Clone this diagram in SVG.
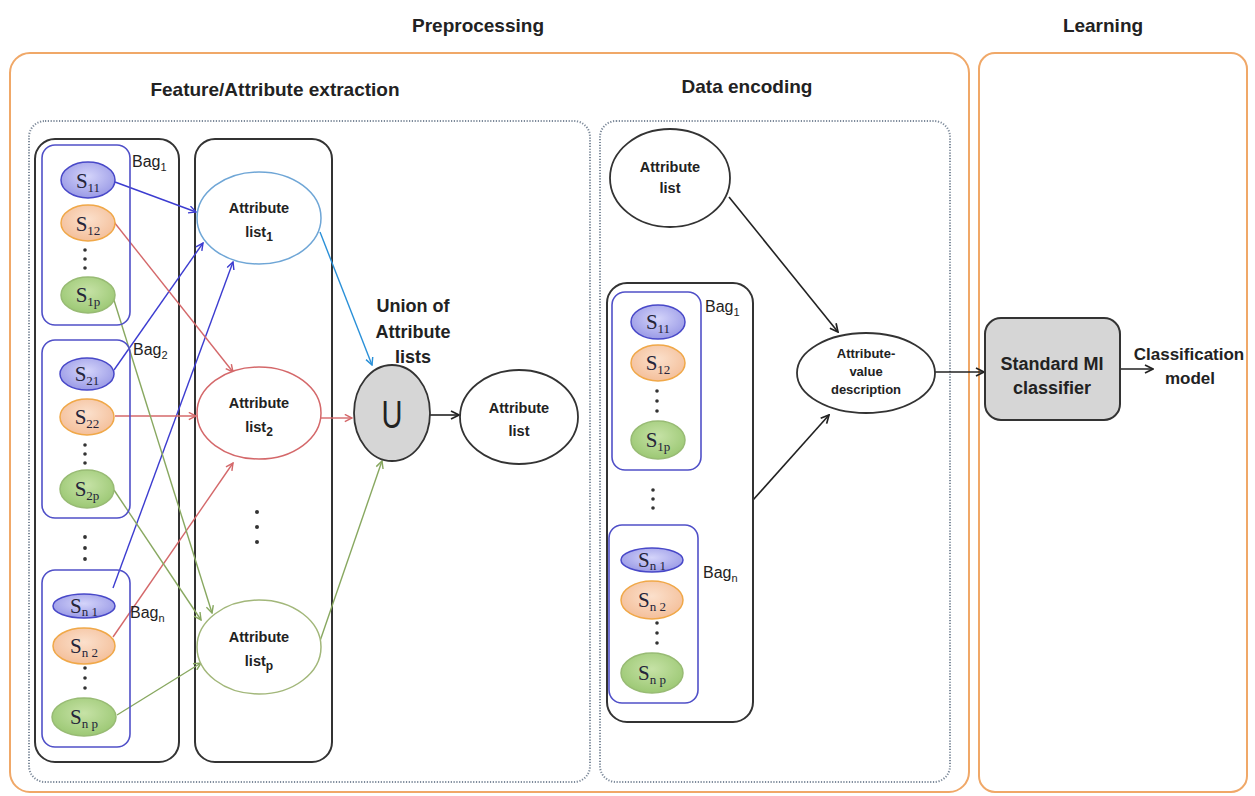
<svg xmlns="http://www.w3.org/2000/svg" width="1255" height="796" viewBox="0 0 1255 796">
<style>
.phase{fill:none;stroke:#f0a868;stroke-width:2}
.dotbox{fill:none;stroke:#7d8a9a;stroke-width:2;stroke-dasharray:1.2 1.6}
.blk{fill:none;stroke:#333;stroke-width:2}
.bag{fill:none;stroke:#5050c8;stroke-width:1.6}
.hd{font-family:"Liberation Sans",Arial,sans-serif;font-weight:bold;font-size:19px;fill:#222;text-anchor:middle}
.lbl{font-family:"Liberation Sans",Arial,sans-serif;font-weight:bold;font-size:14.5px;fill:#222;text-anchor:middle}
.un{font-size:18px}
.av{font-size:13px}
.cl{font-size:18px}
.cm{font-size:17px}
.bl{font-family:"Liberation Sans",Arial,sans-serif;font-size:16px;fill:#222}
.s{font-family:"Liberation Serif","Times New Roman",serif;font-size:21px;fill:#25253a;text-anchor:middle}
.sub{font-size:13px}
.e1{fill:url(#g1);stroke:#4848c8;stroke-width:1.5}
.e2{fill:url(#g2);stroke:#f0a848;stroke-width:1.5}
.e3{fill:url(#g3);stroke:#98bb74;stroke-width:1.5}
.wn{fill:#fff;stroke:#333;stroke-width:1.8}
.dot{fill:#333}
.cb{fill:none;stroke:#3c3cd0;stroke-width:1.4}
.cr{fill:none;stroke:#d4686a;stroke-width:1.4}
.cg{fill:none;stroke:#88a860;stroke-width:1.4}
.ct{fill:none;stroke:#2a90d8;stroke-width:1.4}
.ck{fill:none;stroke:#222;stroke-width:1.6}
</style>
<defs>
<radialGradient id="g1" cx="0.5" cy="0.4" r="0.6"><stop offset="0" stop-color="#d4d4fa"/><stop offset="1" stop-color="#9a9ae6"/></radialGradient>
<radialGradient id="g2" cx="0.5" cy="0.4" r="0.6"><stop offset="0" stop-color="#fbe0cc"/><stop offset="1" stop-color="#f4bf9a"/></radialGradient>
<radialGradient id="g3" cx="0.5" cy="0.4" r="0.6"><stop offset="0" stop-color="#c6e2a6"/><stop offset="1" stop-color="#9cc874"/></radialGradient>
<marker id="mb" viewBox="0 0 10 10" refX="9" refY="5" markerWidth="9" markerHeight="9" orient="auto" markerUnits="userSpaceOnUse"><path d="M1,1 L9,5 L1,9" fill="none" stroke="#3c3cd0" stroke-width="1.6"/></marker>
<marker id="mr" viewBox="0 0 10 10" refX="9" refY="5" markerWidth="9" markerHeight="9" orient="auto" markerUnits="userSpaceOnUse"><path d="M1,1 L9,5 L1,9" fill="none" stroke="#d4686a" stroke-width="1.6"/></marker>
<marker id="mg" viewBox="0 0 10 10" refX="9" refY="5" markerWidth="9" markerHeight="9" orient="auto" markerUnits="userSpaceOnUse"><path d="M1,1 L9,5 L1,9" fill="none" stroke="#88a860" stroke-width="1.6"/></marker>
<marker id="mt" viewBox="0 0 10 10" refX="9" refY="5" markerWidth="9" markerHeight="9" orient="auto" markerUnits="userSpaceOnUse"><path d="M1,1 L9,5 L1,9" fill="none" stroke="#2a90d8" stroke-width="1.6"/></marker>
<marker id="mk" viewBox="0 0 10 10" refX="9" refY="5" markerWidth="10" markerHeight="10" orient="auto" markerUnits="userSpaceOnUse"><path d="M1,1 L9,5 L1,9" fill="none" stroke="#222" stroke-width="1.7"/></marker>
</defs>
<rect width="1255" height="796" fill="#fff"/>

<g id="frames">
<text class="hd" x="478" y="32">Preprocessing</text>
<text class="hd" x="1103" y="32">Learning</text>
<rect class="phase" x="10" y="53" width="959" height="739" rx="20"/>
<rect class="phase" x="979" y="53" width="268" height="739" rx="16"/>
<text class="hd" x="275" y="96">Feature/Attribute extraction</text>
<text class="hd" x="747" y="93">Data encoding</text>
<rect class="dotbox" x="29" y="121" width="561" height="661" rx="16"/>
<rect class="dotbox" x="600" y="121" width="350" height="661" rx="16"/>
<rect class="blk" x="35" y="139" width="144" height="623" rx="20"/>
<rect class="blk" x="195" y="139" width="137" height="623" rx="20"/>
</g>

<g id="connectors">
<line class="cb" x1="115" y1="182" x2="196" y2="212" marker-end="url(#mb)"/>
<line class="cb" x1="114" y1="370" x2="203" y2="243" marker-end="url(#mb)"/>
<line class="cb" x1="113" y1="588" x2="233" y2="262" marker-end="url(#mb)"/>
<line class="cr" x1="114" y1="222" x2="233" y2="372" marker-end="url(#mr)"/>
<line class="cr" x1="115" y1="416" x2="196" y2="416" marker-end="url(#mr)"/>
<line class="cr" x1="113" y1="637" x2="233" y2="463" marker-end="url(#mr)"/>
<line class="cg" x1="113" y1="297" x2="212" y2="613" marker-end="url(#mg)"/>
<line class="cg" x1="114" y1="490" x2="201" y2="620" marker-end="url(#mg)"/>
<line class="cg" x1="117" y1="715" x2="201" y2="663" marker-end="url(#mg)"/>
<line class="ct" x1="320" y1="232" x2="372" y2="365" marker-end="url(#mt)"/>
<line class="cr" x1="321" y1="418" x2="352" y2="418" marker-end="url(#mr)"/>
<line class="cg" x1="320" y1="641" x2="382" y2="461" marker-end="url(#mg)"/>
<line class="ck" x1="430" y1="415" x2="459" y2="415" marker-end="url(#mk)"/>
<line class="ck" x1="729" y1="197" x2="838" y2="332" marker-end="url(#mk)"/>
<line class="ck" x1="753" y1="500" x2="829" y2="415" marker-end="url(#mk)"/>
<line class="ck" x1="935" y1="372" x2="984" y2="372" marker-end="url(#mk)"/>
<line class="ck" x1="1120" y1="369" x2="1153" y2="369" marker-end="url(#mk)"/>
</g>

<g id="bag1">
<rect class="bag" x="42" y="145" width="88" height="180" rx="13"/>
<text class="bl" x="132" y="167">Bag<tspan dy="4" style="font-size:11px">1</tspan></text>
<ellipse class="e1" cx="88" cy="180" rx="27" ry="18"/>
<text class="s" x="88" y="188">S<tspan class="sub" dy="4">11</tspan></text>
<ellipse class="e2" cx="88" cy="223" rx="27" ry="18"/>
<text class="s" x="88" y="231">S<tspan class="sub" dy="4">12</tspan></text>
<circle class="dot" cx="85" cy="250" r="1.8"/><circle class="dot" cx="85" cy="259" r="1.8"/><circle class="dot" cx="85" cy="268" r="1.8"/>
<ellipse class="e3" cx="88" cy="295" rx="27" ry="18"/>
<text class="s" x="88" y="302">S<tspan class="sub" dy="4">1p</tspan></text>
</g>

<g id="bag2">
<rect class="bag" x="42" y="340" width="88" height="178" rx="13"/>
<text class="bl" x="133" y="355">Bag<tspan dy="4" style="font-size:11px">2</tspan></text>
<ellipse class="e1" cx="87" cy="374" rx="27" ry="16"/>
<text class="s" x="87" y="381">S<tspan class="sub" dy="4">21</tspan></text>
<ellipse class="e2" cx="87" cy="417" rx="27" ry="18"/>
<text class="s" x="87" y="424">S<tspan class="sub" dy="4">22</tspan></text>
<circle class="dot" cx="85" cy="445" r="1.8"/><circle class="dot" cx="85" cy="454" r="1.8"/><circle class="dot" cx="85" cy="463" r="1.8"/>
<ellipse class="e3" cx="87" cy="489" rx="27" ry="19"/>
<text class="s" x="87" y="496">S<tspan class="sub" dy="4">2p</tspan></text>
</g>

<g id="bag-dots">
<circle class="dot" cx="85" cy="537" r="1.9"/><circle class="dot" cx="85" cy="548" r="1.9"/><circle class="dot" cx="85" cy="559" r="1.9"/>
</g>

<g id="bagn">
<rect class="bag" x="42" y="570" width="88" height="177" rx="13"/>
<text class="bl" x="130" y="618">Bag<tspan dy="4" style="font-size:11px">n</tspan></text>
<ellipse class="e1" cx="84" cy="606" rx="31" ry="12"/>
<text class="s" x="84" y="613">S<tspan class="sub" dy="3">n 1</tspan></text>
<ellipse class="e2" cx="84" cy="646" rx="31" ry="18"/>
<text class="s" x="84" y="653">S<tspan class="sub" dy="4">n 2</tspan></text>
<circle class="dot" cx="85" cy="668" r="1.8"/><circle class="dot" cx="85" cy="678" r="1.8"/><circle class="dot" cx="85" cy="688" r="1.8"/>
<ellipse class="e3" cx="84" cy="717" rx="32" ry="19"/>
<text class="s" x="84" y="724">S<tspan class="sub" dy="4">n p</tspan></text>
</g>

<g id="attr-list-1">
<ellipse cx="259" cy="218" rx="62" ry="46" fill="#fff" stroke="#6fa6d6" stroke-width="1.5"/>
<text class="lbl" x="259" y="213">Attribute</text>
<text class="lbl" x="259" y="237">list<tspan dy="4" style="font-size:12px">1</tspan></text>
</g>
<g id="attr-list-2">
<ellipse cx="259" cy="413" rx="62" ry="46" fill="#fff" stroke="#d4686a" stroke-width="1.5"/>
<text class="lbl" x="259" y="408">Attribute</text>
<text class="lbl" x="259" y="432">list<tspan dy="4" style="font-size:12px">2</tspan></text>
</g>
<g id="attr-dots">
<circle class="dot" cx="257" cy="512" r="2"/><circle class="dot" cx="257" cy="527" r="2"/><circle class="dot" cx="257" cy="542" r="2"/>
</g>
<g id="attr-list-p">
<ellipse cx="259" cy="647" rx="62" ry="47" fill="#fff" stroke="#a2b77a" stroke-width="1.5"/>
<text class="lbl" x="259" y="642">Attribute</text>
<text class="lbl" x="259" y="666">list<tspan dy="4" style="font-size:12px">p</tspan></text>
</g>

<g id="union">
<text class="lbl un" x="413" y="312">Union of</text>
<text class="lbl un" x="413" y="338">Attribute</text>
<text class="lbl un" x="413" y="363">lists</text>
<ellipse cx="392" cy="413" rx="38" ry="48" fill="#d6d6d6" stroke="#333" stroke-width="1.8"/>
<text x="392" y="428" font-family="Liberation Sans,Arial,sans-serif" font-size="38" fill="#222" text-anchor="middle" textLength="21" lengthAdjust="spacingAndGlyphs">U</text>
</g>

<g id="attr-list-out">
<ellipse class="wn" cx="519" cy="417" rx="59" ry="47"/>
<text class="lbl" x="519" y="413">Attribute</text>
<text class="lbl" x="519" y="436">list</text>
</g>

<g id="enc-attr-list">
<ellipse class="wn" cx="670" cy="178" rx="60" ry="49"/>
<text class="lbl" x="670" y="172">Attribute</text>
<text class="lbl" x="670" y="193">list</text>
</g>

<g id="enc-bags">
<rect class="blk" x="607" y="283" width="146" height="439" rx="20"/>
<rect class="bag" x="612" y="292" width="89" height="178" rx="13"/>
<text class="bl" x="705" y="312">Bag<tspan dy="4" style="font-size:11px">1</tspan></text>
<ellipse class="e1" cx="658" cy="322" rx="27" ry="17"/>
<text class="s" x="658" y="329">S<tspan class="sub" dy="4">11</tspan></text>
<ellipse class="e2" cx="658" cy="363" rx="27" ry="18"/>
<text class="s" x="658" y="370">S<tspan class="sub" dy="4">12</tspan></text>
<circle class="dot" cx="657" cy="391" r="1.8"/><circle class="dot" cx="657" cy="401" r="1.8"/><circle class="dot" cx="657" cy="411" r="1.8"/>
<ellipse class="e3" cx="658" cy="440" rx="27" ry="19"/>
<text class="s" x="658" y="447">S<tspan class="sub" dy="4">1p</tspan></text>
<circle class="dot" cx="653" cy="490" r="1.8"/><circle class="dot" cx="653" cy="499" r="1.8"/><circle class="dot" cx="653" cy="508" r="1.8"/>
<rect class="bag" x="609" y="525" width="89" height="178" rx="13"/>
<text class="bl" x="703" y="578">Bag<tspan dy="4" style="font-size:11px">n</tspan></text>
<ellipse class="e1" cx="652" cy="560" rx="31" ry="12"/>
<text class="s" x="652" y="567">S<tspan class="sub" dy="3">n 1</tspan></text>
<ellipse class="e2" cx="652" cy="600" rx="31" ry="19"/>
<text class="s" x="652" y="607">S<tspan class="sub" dy="4">n 2</tspan></text>
<circle class="dot" cx="657" cy="623" r="1.8"/><circle class="dot" cx="657" cy="633" r="1.8"/><circle class="dot" cx="657" cy="643" r="1.8"/>
<ellipse class="e3" cx="652" cy="673" rx="31" ry="20"/>
<text class="s" x="652" y="680">S<tspan class="sub" dy="4">n p</tspan></text>
</g>

<g id="attr-value-desc">
<ellipse class="wn" cx="866" cy="373" rx="69" ry="40"/>
<text class="lbl av" x="866" y="358">Attribute-</text>
<text class="lbl av" x="866" y="376">value</text>
<text class="lbl av" x="866" y="394">description</text>
</g>

<g id="classifier">
<rect x="985" y="318" width="135" height="102" rx="16" fill="#d6d6d6" stroke="#333" stroke-width="2"/>
<text class="hd cl" x="1052" y="370">Standard MI</text>
<text class="hd cl" x="1052" y="394">classifier</text>
</g>

<g id="classification-model">
<text class="hd cm" x="1189" y="360">Classification</text>
<text class="hd cm" x="1190" y="384">model</text>
</g>
</svg>
